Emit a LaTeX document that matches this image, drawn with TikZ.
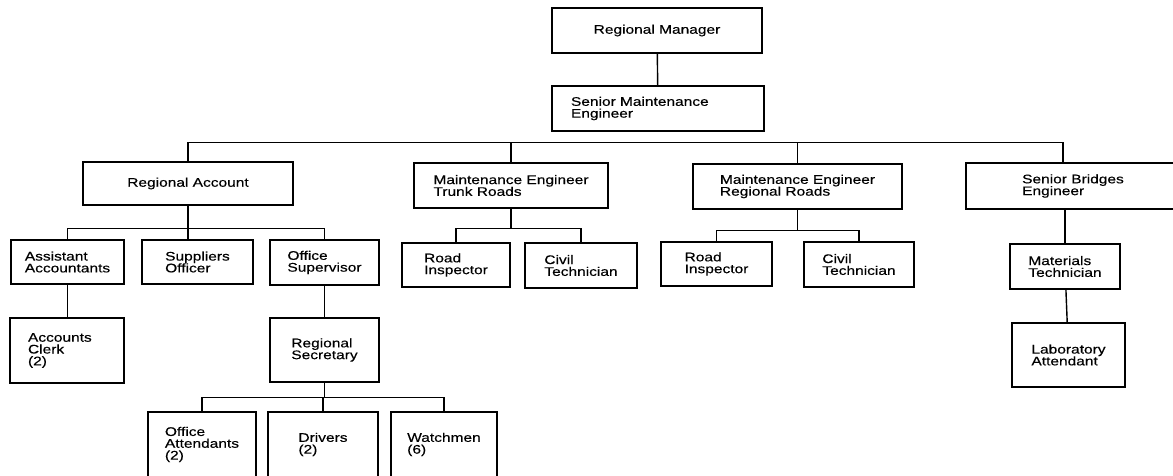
\documentclass[tikz,border=0pt]{standalone}
\usepackage{fontspec}
\setmainfont{Liberation Sans}[FakeStretch=1.24,FakeBold=0.3]
\usetikzlibrary{positioning,calc}

\begin{document}
\begin{tikzpicture}[x=1pt,y=-1pt,
  post/.style={draw,line width=1.4pt,rectangle,align=left,inner sep=0pt,
    font=\fontsize{12.5}{11.8}\selectfont},
  link/.style={line width=1.4pt}]
\useasboundingbox[fill=white] (0,0) rectangle (1173,476);
\node[post,minimum width=210,minimum height=45] (rm) at (657,30.5) {Regional Manager};
\node[post,inner xsep=19,text width=174,minimum height=45] (sme) at (658,108.5) {Senior Maintenance\\Engineer};
\node[post,minimum width=210,minimum height=43] (ra) at (188,183.5) {Regional Account};
\node[post,minimum width=194,minimum height=45] (trk) at (511,185.5) {Maintenance Engineer\\Trunk Roads};
\node[post,minimum width=209,minimum height=45] (rr) at (797.5,186.5) {Maintenance Engineer\\Regional Roads};
\node[post,minimum width=214,minimum height=46] (sb) at (1073,186) {Senior Bridges\\Engineer};
\node[post,minimum width=113,minimum height=44] (aa) at (67.5,262) {Assistant\\Accountants};
\node[post,minimum width=111,minimum height=44] (so) at (197.5,262) {Suppliers\\Officer};
\node[post,minimum width=109,minimum height=45] (os) at (324.5,262.5) {Office\\Supervisor};
\node[post,minimum width=108,minimum height=44] (ri1) at (456,265) {Road\\Inspector};
\node[post,minimum width=112,minimum height=45] (ct1) at (581,265.5) {Civil\\Technician};
\node[post,minimum width=111,minimum height=44] (ri2) at (716.5,264) {Road\\Inspector};
\node[post,minimum width=110,minimum height=45] (ct2) at (859,264.5) {Civil\\Technician};
\node[post,minimum width=110,minimum height=45] (mt) at (1065,266.5) {Materials\\Technician};
\node[post,inner xsep=18,text width=78,minimum height=65] (ac) at (67,350.5) {Accounts\\Clerk\\(2)};
\node[post,minimum width=109,minimum height=64] (rs) at (324.5,350) {Regional\\Secretary};
\node[post,minimum width=113,minimum height=64] (la) at (1068.5,355) {Laboratory\\Attendant};
\node[post,minimum width=108,minimum height=65] (oa) at (202,444.5) {Office\\Attendants\\(2)};
\node[post,minimum width=110,minimum height=65] (dr) at (323,444.5) {Drivers\\(2)};
\node[post,minimum width=106,minimum height=65] (wm) at (444,444.5) {Watchmen\\(6)};
\draw[link] (rm) -- (sme);
\draw[link] (ra.north) -- ++(0,-19) -| ([xshift=-10]sb.north);
\draw[link] (trk.north) -- (trk.north |- 0,143);
\draw[link] (rr.north) -- (rr.north |- 0,143);
\draw[link] (ra.south) -- ++(0,23) -| (aa.north);
\draw[link] (ra.south) -- ++(0,23) -| (os.north);
\draw[link] (ra.south) -- (ra.south |- so.north);
\draw[link] (trk.south) -- ++(0,20) -| (ri1.north);
\draw[link] (trk.south) -- ++(0,20) -| (ct1.north);
\draw[link] (rr.south) -- ++(0,21) -| (ri2.north);
\draw[link] (rr.south) -- ++(0,21) -| (ct2.north);
\draw[link] (mt.north) -- (mt.north |- sb.south);
\draw[link] (mt) -- (la);
\draw[link] (aa.south) -- (aa.south |- ac.north);
\draw[link] (os) -- (rs);
\draw[link] (rs.south) -- ++(0,15) -| (oa.north);
\draw[link] (rs.south) -- ++(0,15) -| (wm.north);
\draw[link] (rs.south) -- ++(0,15) -| (dr.north);
\end{tikzpicture}
\end{document}
